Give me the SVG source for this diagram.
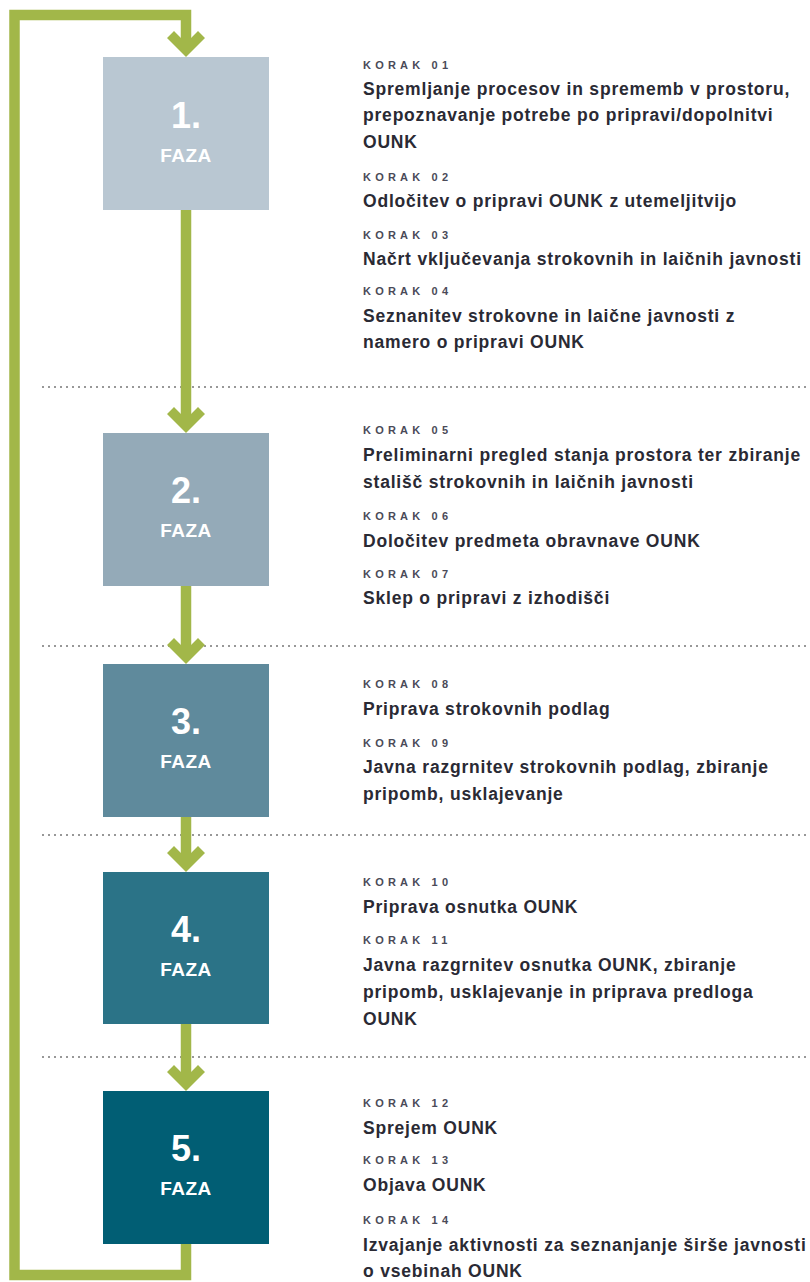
<svg xmlns="http://www.w3.org/2000/svg" xmlns:xlink="http://www.w3.org/1999/xlink" width="810" height="1282" viewBox="0 0 810 1282">
<style>
.box-num{font-family:"Liberation Sans",Arial,sans-serif;font-weight:bold;font-size:36px;fill:#ffffff;text-anchor:middle}
.box-lbl{font-family:"Liberation Sans",Arial,sans-serif;font-weight:bold;font-size:19px;fill:#ffffff;text-anchor:middle;letter-spacing:0.5px}
.step{font-family:"Liberation Sans",Arial,sans-serif;font-weight:bold;font-size:11px;fill:#4a4a58;letter-spacing:4.2px}
.desc{font-family:"Liberation Sans",Arial,sans-serif;font-weight:bold;font-size:17.5px;fill:#2a2a34;letter-spacing:0.8px}
.flow{fill:none;stroke:#a2b749;stroke-width:10.5;stroke-linejoin:miter;stroke-linecap:butt}
.chev{fill:#a2b749}
.sep{stroke:#777777;stroke-width:1.6;stroke-dasharray:2 4;fill:none}
</style>
<defs>
<path id="chev" d="M0,0 L-19,-19 L-12,-26 L0,-14 L12,-26 L19,-19 Z"/>
</defs>

<g id="separators">
<line class="sep" x1="42" y1="387" x2="810" y2="387"/>
<line class="sep" x1="42" y1="646" x2="810" y2="646"/>
<line class="sep" x1="42" y1="835" x2="810" y2="835"/>
<line class="sep" x1="42" y1="1057" x2="810" y2="1057"/>
</g>

<g id="connectors">
<path class="flow" d="M186,1244 V1275 H14.5 V15 H186 V45"/>
<path class="flow" d="M186,210 V422"/>
<path class="flow" d="M186,586 V653"/>
<path class="flow" d="M186,817 V861"/>
<path class="flow" d="M186,1024 V1080"/>
<use class="chev" xlink:href="#chev" href="#chev" x="186" y="57"/>
<use class="chev" xlink:href="#chev" href="#chev" x="186" y="433"/>
<use class="chev" xlink:href="#chev" href="#chev" x="186" y="664"/>
<use class="chev" xlink:href="#chev" href="#chev" x="186" y="872"/>
<use class="chev" xlink:href="#chev" href="#chev" x="186" y="1091"/>
</g>

<g id="phase1">
<rect x="103" y="57" width="166" height="153" fill="#b9c7d2"/>
<text class="box-num" x="186" y="128">1.</text>
<text class="box-lbl" x="186" y="162">FAZA</text>
</g>
<g id="phase2">
<rect x="103" y="433" width="166" height="153" fill="#94aab8"/>
<text class="box-num" x="186" y="503">2.</text>
<text class="box-lbl" x="186" y="537">FAZA</text>
</g>
<g id="phase3">
<rect x="103" y="664" width="166" height="153" fill="#5f8a9c"/>
<text class="box-num" x="186" y="734">3.</text>
<text class="box-lbl" x="186" y="768">FAZA</text>
</g>
<g id="phase4">
<rect x="103" y="872" width="166" height="152" fill="#2b7387"/>
<text class="box-num" x="186" y="942">4.</text>
<text class="box-lbl" x="186" y="976">FAZA</text>
</g>
<g id="phase5">
<rect x="103" y="1091" width="166" height="153" fill="#015e74"/>
<text class="box-num" x="186" y="1161">5.</text>
<text class="box-lbl" x="186" y="1195">FAZA</text>
</g>

<g id="steps1">
<text class="step" x="363" y="69">KORAK 01</text>
<text class="desc" x="363" y="95">Spremljanje procesov in sprememb v prostoru,</text>
<text class="desc" x="363" y="121">prepoznavanje potrebe po pripravi/dopolnitvi</text>
<text class="desc" x="363" y="148">OUNK</text>
<text class="step" x="363" y="181">KORAK 02</text>
<text class="desc" x="363" y="207">Odločitev o pripravi OUNK z utemeljitvijo</text>
<text class="step" x="363" y="239">KORAK 03</text>
<text class="desc" x="363" y="265">Načrt vključevanja strokovnih in laičnih javnosti</text>
<text class="step" x="363" y="295">KORAK 04</text>
<text class="desc" x="363" y="322">Seznanitev strokovne in laične javnosti z</text>
<text class="desc" x="363" y="348">namero o pripravi OUNK</text>
</g>

<g id="steps2">
<text class="step" x="363" y="434">KORAK 05</text>
<text class="desc" x="363" y="461">Preliminarni pregled stanja prostora ter zbiranje</text>
<text class="desc" x="363" y="488">stališč strokovnih in laičnih javnosti</text>
<text class="step" x="363" y="520">KORAK 06</text>
<text class="desc" x="363" y="547">Določitev predmeta obravnave OUNK</text>
<text class="step" x="363" y="578">KORAK 07</text>
<text class="desc" x="363" y="604">Sklep o pripravi z izhodišči</text>
</g>

<g id="steps3">
<text class="step" x="363" y="688">KORAK 08</text>
<text class="desc" x="363" y="715">Priprava strokovnih podlag</text>
<text class="step" x="363" y="747">KORAK 09</text>
<text class="desc" x="363" y="773">Javna razgrnitev strokovnih podlag, zbiranje</text>
<text class="desc" x="363" y="800">pripomb, usklajevanje</text>
</g>

<g id="steps4">
<text class="step" x="363" y="886">KORAK 10</text>
<text class="desc" x="363" y="913">Priprava osnutka OUNK</text>
<text class="step" x="363" y="944">KORAK 11</text>
<text class="desc" x="363" y="971">Javna razgrnitev osnutka OUNK, zbiranje</text>
<text class="desc" x="363" y="998">pripomb, usklajevanje in priprava predloga</text>
<text class="desc" x="363" y="1025">OUNK</text>
</g>

<g id="steps5">
<text class="step" x="363" y="1107">KORAK 12</text>
<text class="desc" x="363" y="1134">Sprejem OUNK</text>
<text class="step" x="363" y="1164">KORAK 13</text>
<text class="desc" x="363" y="1191">Objava OUNK</text>
<text class="step" x="363" y="1224">KORAK 14</text>
<text class="desc" x="363" y="1251">Izvajanje aktivnosti za seznanjanje širše javnosti</text>
<text class="desc" x="363" y="1277">o vsebinah OUNK</text>
</g>
</svg>
